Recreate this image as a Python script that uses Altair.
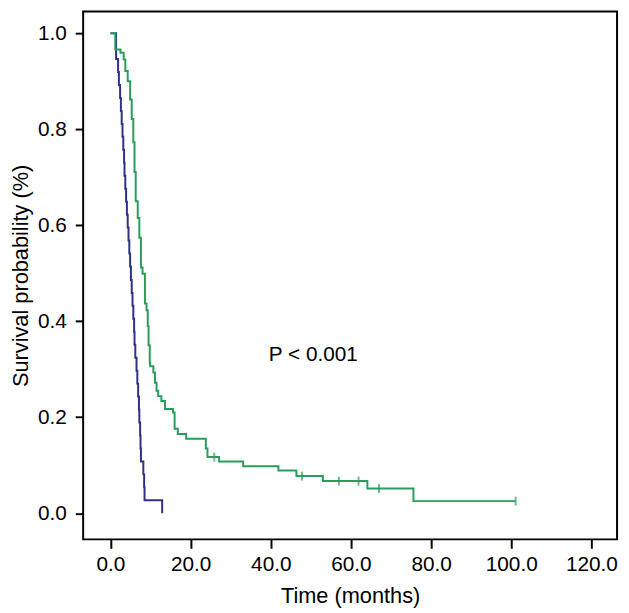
import altair as alt
import pandas as pd

# Blue group (Kaplan-Meier steps): time in months, survival probability
blue_time = [0.0, 1.4, 1.9, 2.1, 2.4, 2.6, 2.8, 3.0, 3.2, 3.4, 3.5, 3.7, 3.9, 4.1,
             4.3, 4.5, 4.7, 4.9, 5.1, 5.3, 5.5, 5.7, 5.9, 6.0, 6.2, 6.5, 6.7, 6.9,
             7.1, 7.2, 7.4, 7.5, 7.6, 8.2, 8.4, 8.5, 12.9]
blue_surv = [1.0, 0.946, 0.919, 0.892, 0.865, 0.838, 0.811, 0.784, 0.757, 0.730,
             0.703, 0.676, 0.649, 0.622, 0.595, 0.568, 0.541, 0.514, 0.486, 0.459,
             0.432, 0.405, 0.378, 0.351, 0.324, 0.297, 0.270, 0.243, 0.216, 0.189,
             0.162, 0.135, 0.108, 0.081, 0.054, 0.027, 0.0]

# Green group
green_time = [0.0, 1.2, 2.5, 3.3, 3.7, 4.3, 4.9, 5.3, 5.7, 6.0, 6.3, 6.8, 7.2, 7.6,
              8.0, 8.6, 9.0, 9.3, 9.5, 9.8, 9.9, 10.7, 11.1, 11.5, 11.9, 12.7, 13.6,
              15.6, 16.0, 16.8, 18.9, 23.8, 24.2, 27.1, 33.1, 41.9, 46.4, 53.0,
              64.1, 75.6, 101.1]
green_surv = [1.0, 0.966, 0.959, 0.945, 0.921, 0.900, 0.862, 0.821, 0.773, 0.711,
              0.650, 0.615, 0.574, 0.512, 0.499, 0.437, 0.423, 0.390, 0.350, 0.313,
              0.306, 0.293, 0.272, 0.255, 0.244, 0.234, 0.217, 0.210, 0.176, 0.165,
              0.155, 0.135, 0.117, 0.108, 0.098, 0.089, 0.0775, 0.067, 0.0515,
              0.0253, 0.0253]

# Censored observations (green)
cens_time = [25.9, 47.8, 57.0, 61.9, 67.0, 101.1]
cens_surv = [0.117, 0.0775, 0.067, 0.067, 0.0515, 0.0253]

x_ticks = [0, 20, 40, 60, 80, 100, 120]
y_ticks = [0.0, 0.2, 0.4, 0.6, 0.8, 1.0]

BLUE = "#2e3184"
GREEN = "#2a9d5a"
FONT = "Liberation Sans"

df = pd.concat([
    pd.DataFrame({"time": blue_time, "surv": blue_surv, "group": "blue"}),
    pd.DataFrame({"time": green_time, "surv": green_surv, "group": "green"}),
])
cens = pd.DataFrame({"time": cens_time, "surv": cens_surv})
ann = pd.DataFrame({"time": [39.5], "surv": [0.3165], "label": ["P < 0.001"]})

xs = alt.Scale(domain=[-6.82, 126.4], nice=False, zero=False)
ys = alt.Scale(domain=[-0.0544, 1.0453], nice=False, zero=False)

xax = alt.Axis(values=x_ticks, format=".1f", title="Time (months)", grid=False,
               domain=False, tickSize=9, tickWidth=2, tickColor="black",
               labelFont=FONT, labelFontSize=21, labelColor="black", labelPadding=5,
               titleFont=FONT, titleFontSize=22, titleFontWeight="normal",
               titleColor="black", titlePadding=12)
yax = alt.Axis(values=y_ticks, format=".1f", title="Survival probability (%)", grid=False,
               domain=False, tickSize=8, tickWidth=2, tickColor="black",
               labelFont=FONT, labelFontSize=21, labelColor="black", labelPadding=9,
               titleFont=FONT, titleFontSize=22, titleFontWeight="normal",
               titleColor="black", titlePadding=5)

lines = alt.Chart(df).mark_line(interpolate="step-after", strokeWidth=2).encode(
    x=alt.X("time:Q", scale=xs, axis=xax),
    y=alt.Y("surv:Q", scale=ys, axis=yax),
    color=alt.Color("group:N", scale=alt.Scale(domain=["blue", "green"], range=[BLUE, GREEN]),
                    legend=None),
    order=alt.Order("time:Q"),
)

ticks = alt.Chart(cens).mark_tick(orient="vertical", size=9, thickness=2, color=GREEN).encode(
    x=alt.X("time:Q", scale=xs),
    y=alt.Y("surv:Q", scale=ys),
)

text = alt.Chart(ann).mark_text(align="left", baseline="alphabetic", font=FONT,
                                fontSize=21, color="black").encode(
    x=alt.X("time:Q", scale=xs),
    y=alt.Y("surv:Q", scale=ys),
    text="label:N",
)

chart = alt.layer(lines, ticks, text).properties(
    width=540, height=534,
    autosize=alt.AutoSizeParams(type="none"),
    padding={"left": 76, "top": 0, "right": 4, "bottom": 70},
    background="white",
).configure_view(stroke="black", strokeWidth=2)

chart.save("out.html", embed_options={"renderer": "svg", "actions": False})
